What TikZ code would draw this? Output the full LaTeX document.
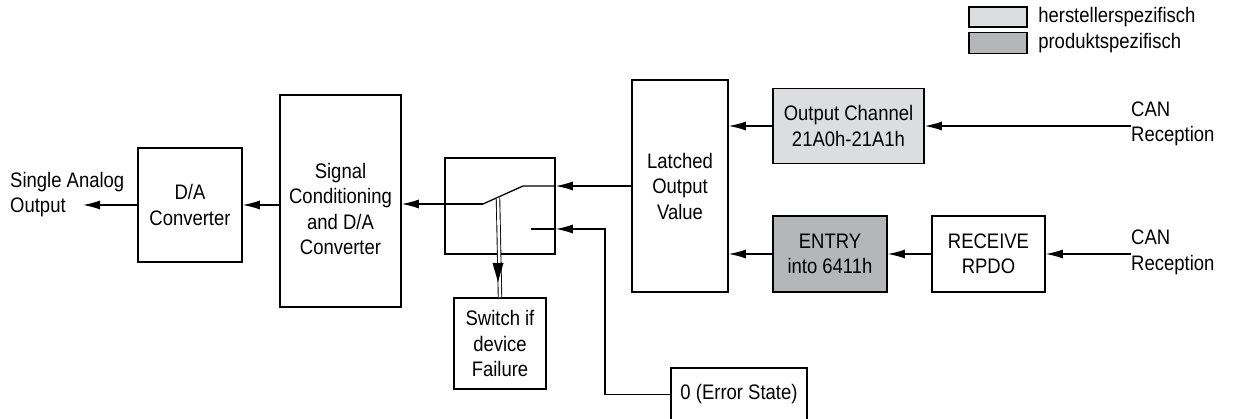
\documentclass[tikz,border=0pt]{standalone}
\usepackage{fontspec}
\setmainfont{Liberation Sans}[FakeStretch=0.88]
\usetikzlibrary{positioning,arrows.meta}
\definecolor{herstgray}{HTML}{DCDDDF}
\definecolor{produkgray}{HTML}{B5B6B8}

\begin{document}
\begin{tikzpicture}[x=1pt,y=-1pt,
		font=\fontsize{21}{25.5}\selectfont,
		blk/.style={draw, line width=1.5pt, align=center, inner sep=0pt},
		arr/.style={line width=1.3pt, -{Latex[length=17pt,width=9pt]}},
		wire/.style={line width=1.3pt}]
		
		\useasboundingbox (0,0) rectangle (1239,419);
		
		% legend
		\node[blk, fill=herstgray, minimum width=58, minimum height=20] (leg1) at (998,17) {};
		\node[blk, fill=produkgray, minimum width=58, minimum height=21] (leg2) at (998,43) {};
		\node[right=7pt of leg1] (leg1txt) {herstellerspezifisch};
		\node[right=7pt of leg2] (leg2txt) {produktspezifisch};
		
		% blocks
		\node[blk, minimum width=104, minimum height=114] (da) at (190,205) {D/A\\Converter};
		\node[blk, minimum width=121, minimum height=212] (sig) at (340.5,201) {};
		\node[align=center] (sigtxt) at (340.5,209) {Signal\\Conditioning\\and D/A\\Converter};
		\node[blk, minimum width=110, minimum height=96] (sw) at (500,206) {};
		\node[blk, minimum width=92, minimum height=91] (fail) at (500,343.5) {Switch if\\device\\Failure};
		\node[blk, minimum width=96, minimum height=212] (latch) at (680,186) {Latched\\Output\\Value};
		\node[blk, fill=herstgray, minimum width=151, minimum height=75] (outch) at (848.5,126) {Output Channel\\21A0h-21A1h};
		\node[blk, fill=produkgray, minimum width=114, minimum height=76] (entry) at (830,254) {ENTRY\\into 6411h};
		\node[blk, minimum width=113, minimum height=76] (rpdo) at (988.5,254) {RECEIVE\\RPDO};
		\node[blk, minimum width=136, minimum height=53] (err) at (739,394.5) {0 (Error State)};
		
		% texts at the ends
		\node[align=left, anchor=west, inner sep=0pt] (analog) at (10,194.5) {Single Analog\\Output};
		\node[align=left, anchor=west, inner sep=0pt] (can1) at (1131,124) {CAN\\Reception};
		\node[align=left, anchor=west, inner sep=0pt] (can2) at (1131,252.5) {CAN\\Reception};
		
		% switch contacts
		\coordinate (pivot) at (483,204);
		\coordinate (blade) at (523,186);
		\coordinate (lo) at (531,229);
		\coordinate (tap) at (498,198);
		\coordinate (tip) at (498,282);
		\coordinate (bend) at (605,229);
		\coordinate (outend) at (83,205);
		
		\draw[wire] (pivot) -- (blade) -- (sw.east |- blade);
		\draw[wire] (lo) -- (sw.east |- lo);
		\draw[double, line width=0.9pt, double distance=2.6pt] (tap) -- (fail.north);
		\fill (tip) -- ++(-5.5,-19) -- ++(11,0) -- cycle;
		
		% connectors
		\draw[arr] (da.west |- outend) -- (outend);
		\draw[arr] (sig.west |- outend) -- (da.east |- outend);
		\draw[arr] (pivot) -- (sig.east |- pivot);
		\draw[arr] (latch.west |- blade) -- (sw.east |- blade);
		\draw[arr] (err.west) -| (bend) -- (sw.east |- lo);
		\draw[arr] (outch.west) -- (latch.east |- outch.west);
		\draw[arr] (can1.west |- outch.east) -- (outch.east);
		\draw[arr] (entry.west) -- (latch.east |- entry.west);
		\draw[arr] (rpdo.west) -- (entry.east);
		\draw[arr] (can2.west |- rpdo.east) -- (rpdo.east);
		
	\end{tikzpicture}
\end{document}
